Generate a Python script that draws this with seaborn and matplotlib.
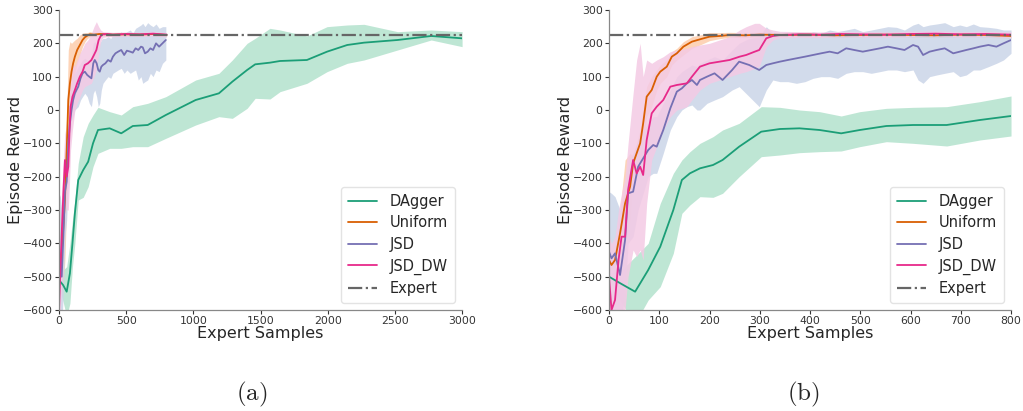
import matplotlib
matplotlib.use("Agg")
import matplotlib.pyplot as plt
import seaborn as sns
import numpy as np

# ---------------- data ----------------
expert_reward = 225
series_names = ["DAgger", "Uniform", "JSD", "JSD_DW"]
line_colors = ["#1b9e77", "#d95f02", "#7570b3", "#e7298a"]
fill_colors = ["#b3e2cd", "#fdcdac", "#cbd5e8", "#f4cae4"]

# panel (a)
a_dagger_x = [0, 30, 57, 81, 100, 118, 143, 180, 217, 253, 290, 377, 463, 549, 660, 795, 1017, 1190, 1290, 1400, 1460, 1570, 1645, 1845, 1995, 2145, 2270, 2520, 2770, 3000]
a_dagger_mean = [-510, -525, -545, -490, -400, -310, -210, -180, -155, -100, -60, -55, -70, -48, -45, -15, 30, 50, 85, 120, 137, 142, 147, 150, 175, 195, 202, 210, 222, 215]
a_dagger_hi = [-490, -480, -470, -400, -330, -270, -160, -80, -40, -15, 8, -5, -15, 10, 20, 40, 90, 110, 150, 200, 215, 245, 240, 222, 250, 255, 257, 235, 240, 235]
a_dagger_lo = [-530, -575, -620, -580, -470, -400, -270, -262, -230, -170, -130, -115, -115, -110, -110, -85, -45, -20, -25, 5, 35, 33, 55, 80, 115, 140, 150, 180, 210, 190]

a_uniform_x = [0, 10, 25, 44, 57, 69, 81, 93, 105, 118, 135, 155, 175, 192, 210, 229, 260, 300, 400, 500, 600, 700, 800]
a_uniform_mean = [-450, -470, -400, -270, -120, 30, 80, 115, 140, 160, 180, 195, 210, 218, 223, 227, 226, 228, 226, 227, 226, 228, 225]
a_uniform_hi = [-430, -400, -250, -130, -20, 180, 205, 200, 205, 210, 215, 225, 230, 232, 232, 235, 232, 233, 231, 232, 231, 233, 230]
a_uniform_lo = [-470, -520, -560, -450, -280, -150, -60, 20, 70, 110, 140, 165, 190, 204, 214, 220, 220, 222, 221, 222, 221, 223, 220]

a_jsd_x = [0, 10, 20, 32, 44, 57, 69, 81, 93, 105, 118, 130, 143, 160, 175, 192, 210, 225, 241, 255, 266, 280, 292, 303, 315, 327, 345, 365, 385, 401, 420, 440, 463, 485, 505, 530, 549, 570, 590, 610, 623, 640, 660, 680, 700, 722, 745, 770, 795]
a_jsd_mean = [-430, -445, -500, -380, -245, -215, -100, -40, 0, 30, 50, 60, 70, 95, 110, 115, 105, 100, 95, 140, 150, 140, 120, 115, 130, 135, 140, 150, 145, 160, 170, 175, 180, 165, 178, 175, 172, 185, 180, 190, 188, 170, 175, 185, 180, 200, 190, 200, 210]
a_jsd_hi = [-250, -260, -300, -250, -150, -120, -20, 40, 80, 100, 110, 120, 130, 140, 150, 155, 150, 150, 160, 200, 205, 200, 190, 200, 210, 215, 215, 220, 215, 225, 230, 225, 235, 225, 235, 240, 230, 245, 250, 255, 260, 250, 262, 255, 250, 258, 245, 250, 250]
a_jsd_lo = [-600, -620, -650, -550, -380, -330, -200, -100, -30, -20, 0, 5, 10, 30, 40, 50, 40, 20, 10, 50, 60, 40, 10, 20, 60, 80, 90, 100, 95, 110, 115, 120, 125, 110, 120, 110, 115, 120, 90, 100, 80, 85, 90, 110, 100, 120, 115, 140, 150]

a_jsddw_x = [0, 10, 20, 32, 44, 57, 69, 78, 86, 100, 118, 135, 155, 175, 192, 215, 241, 260, 278, 295, 310, 327, 360, 400, 500, 600, 700, 800]
a_jsddw_mean = [-600, -480, -370, -250, -150, -200, -170, -60, 10, 40, 60, 80, 100, 115, 135, 140, 150, 165, 180, 210, 222, 227, 228, 226, 228, 227, 229, 226]
a_jsddw_hi = [-560, -400, -250, -150, -60, -100, -50, 60, 120, 140, 130, 150, 170, 185, 200, 210, 230, 250, 265, 250, 240, 235, 234, 233, 234, 233, 235, 232]
a_jsddw_lo = [-640, -600, -520, -400, -280, -300, -300, -220, -120, -60, 0, 20, 40, 60, 70, 75, 80, 100, 120, 170, 205, 218, 220, 219, 221, 220, 222, 219]

# panel (b)
b_dagger_x = [0, 25, 52, 78, 102, 128, 145, 161, 181, 207, 226, 259, 303, 340, 379, 419, 462, 499, 552, 605, 672, 738, 800]
b_dagger_mean = [-500, -522, -545, -480, -410, -300, -210, -190, -175, -165, -150, -110, -65, -57, -55, -60, -70, -60, -48, -45, -45, -30, -18]
b_dagger_hi = [-490, -480, -440, -400, -280, -190, -150, -125, -100, -80, -60, -40, 10, 8, 0, -5, -18, -5, 5, 8, 10, 25, 42]
b_dagger_lo = [-510, -580, -640, -570, -530, -430, -310, -285, -260, -262, -250, -200, -140, -135, -128, -125, -123, -110, -95, -100, -108, -90, -78]

b_uniform_x = [0, 5, 12, 22, 32, 42, 48, 55, 62, 68, 75, 85, 95, 102, 115, 125, 135, 148, 165, 181, 200, 220, 240, 270, 300, 350, 400, 450, 500, 550, 600, 650, 700, 750, 800]
b_uniform_mean = [-450, -465, -450, -370, -280, -230, -160, -130, -100, -40, 40, 60, 100, 115, 130, 160, 170, 190, 205, 212, 220, 222, 225, 224, 226, 225, 226, 224, 225, 226, 225, 224, 226, 225, 222]
b_uniform_hi = [-440, -450, -430, -300, -150, -130, -140, -100, -60, 0, 70, 100, 120, 135, 150, 175, 185, 205, 220, 225, 232, 232, 233, 232, 233, 232, 233, 231, 232, 233, 232, 231, 233, 232, 229]
b_uniform_lo = [-460, -480, -470, -440, -400, -330, -200, -170, -150, -100, -20, 10, 60, 80, 100, 135, 150, 165, 185, 195, 208, 214, 218, 217, 219, 218, 219, 217, 218, 219, 218, 217, 219, 218, 215]

b_jsd_x = [0, 5, 12, 22, 32, 38, 48, 58, 68, 78, 88, 95, 108, 122, 135, 145, 155, 165, 175, 181, 195, 210, 226, 245, 259, 279, 299, 313, 326, 340, 356, 373, 390, 406, 422, 439, 455, 472, 488, 505, 522, 539, 555, 572, 588, 605, 615, 625, 638, 652, 668, 685, 698, 711, 725, 738, 755, 771, 785, 800]
b_jsd_mean = [-425, -445, -430, -495, -390, -250, -245, -170, -145, -120, -105, -110, -60, 5, 55, 65, 80, 90, 75, 90, 100, 110, 90, 120, 145, 135, 120, 135, 140, 145, 150, 155, 160, 165, 170, 175, 170, 185, 180, 175, 180, 185, 190, 185, 180, 195, 190, 165, 175, 180, 185, 170, 175, 180, 185, 190, 195, 190, 200, 210]
b_jsd_hi = [-245, -250, -260, -300, -250, -150, -130, -90, -60, -40, -20, -20, 20, 60, 100, 115, 125, 135, 130, 140, 150, 160, 150, 180, 200, 215, 220, 250, 230, 220, 225, 230, 225, 235, 230, 240, 235, 240, 245, 235, 240, 245, 250, 248, 240, 255, 260, 250, 255, 258, 262, 250, 255, 250, 258, 250, 248, 245, 240, 240]
b_jsd_lo = [-600, -620, -620, -640, -560, -400, -380, -300, -250, -200, -190, -190, -130, -60, -20, 0, 10, 15, 0, 0, 20, 30, 40, 60, 70, 40, 10, 60, 90, 85, 85, 80, 85, 95, 100, 100, 95, 110, 115, 115, 110, 115, 120, 120, 115, 120, 90, 80, 100, 105, 110, 115, 100, 105, 120, 120, 130, 140, 150, 170]

b_jsddw_x = [0, 5, 12, 19, 25, 32, 38, 48, 55, 62, 68, 75, 85, 95, 108, 122, 135, 155, 165, 181, 200, 220, 240, 260, 273, 290, 299, 313, 326, 340, 380, 420, 460, 500, 550, 600, 650, 700, 750, 800]
b_jsddw_mean = [-500, -600, -570, -450, -380, -380, -240, -150, -190, -170, -195, -90, -10, 10, 30, 70, 75, 80, 100, 130, 140, 145, 150, 160, 165, 175, 180, 215, 222, 225, 227, 226, 228, 227, 226, 228, 229, 227, 228, 226]
b_jsddw_hi = [-380, -400, -380, -300, -250, -200, -100, 50, 150, 200, 100, 150, 140, 150, 160, 175, 180, 185, 190, 195, 200, 210, 220, 240, 250, 260, 260, 245, 240, 236, 235, 234, 236, 235, 234, 236, 237, 235, 236, 234]
b_jsddw_lo = [-600, -640, -640, -620, -600, -600, -500, -420, -440, -420, -450, -280, -150, -110, -60, -20, 0, 10, 30, 60, 80, 90, 100, 110, 115, 125, 130, 190, 210, 216, 218, 217, 220, 219, 218, 220, 221, 219, 220, 218]

x_ticks_a = [0, 500, 1000, 1500, 2000, 2500, 3000]
x_ticks_b = [0, 100, 200, 300, 400, 500, 600, 700, 800]
y_ticks = [-600, -500, -400, -300, -200, -100, 0, 100, 200, 300]
captions = ["(a)", "(b)"]

panels = [
    dict(xmax=3000, xticks=x_ticks_a, cap_x=0.2463, series=[
        (a_dagger_x, a_dagger_mean, a_dagger_lo, a_dagger_hi),
        (a_uniform_x, a_uniform_mean, a_uniform_lo, a_uniform_hi),
        (a_jsd_x, a_jsd_mean, a_jsd_lo, a_jsd_hi),
        (a_jsddw_x, a_jsddw_mean, a_jsddw_lo, a_jsddw_hi)]),
    dict(xmax=800, xticks=x_ticks_b, cap_x=0.785, series=[
        (b_dagger_x, b_dagger_mean, b_dagger_lo, b_dagger_hi),
        (b_uniform_x, b_uniform_mean, b_uniform_lo, b_uniform_hi),
        (b_jsd_x, b_jsd_mean, b_jsd_lo, b_jsd_hi),
        (b_jsddw_x, b_jsddw_mean, b_jsddw_lo, b_jsddw_hi)]),
]

# ---------------- plot ----------------
sns.set_style("ticks")
plt.rcParams["font.family"] = ["DejaVu Sans"]
plt.rcParams["mathtext.fontset"] = "cm"

fig = plt.figure(figsize=(10.23, 4.11), dpi=100)
axes = [fig.add_axes([0.0577, 0.2457, 0.394, 0.73]),
        fig.add_axes([0.5953, 0.2457, 0.393, 0.73])]

for ax, panel, cap in zip(axes, panels, captions):
    for (x, m, lo, hi), fc in zip(panel["series"], fill_colors):
        ax.fill_between(x, lo, hi, color=fc, alpha=0.85, linewidth=0)
    for (x, m, lo, hi), name, lc in zip(panel["series"], series_names, line_colors):
        sns.lineplot(x=x, y=m, ax=ax, color=lc, linewidth=1.3, label=name, estimator=None, sort=False)
    ax.axhline(expert_reward, color="#666666", linestyle="-.", linewidth=1.6, label="Expert")
    ax.set_xlim(0, panel["xmax"])
    ax.set_ylim(-600, 300)
    ax.set_xticks(panel["xticks"])
    ax.set_yticks(y_ticks)
    ax.tick_params(labelsize=7.8, colors="#333333", length=3, width=0.8, pad=1.5)
    for s in ("left", "bottom"):
        ax.spines[s].set_color("#888888")
        ax.spines[s].set_linewidth(0.9)
    sns.despine(ax=ax)
    ax.set_xlabel("Expert Samples", fontsize=11.5, labelpad=0)
    ax.set_ylabel("Episode Reward", fontsize=11.5, labelpad=0)
    leg = ax.legend(loc="lower right", fontsize=10.5, frameon=True, handlelength=2.0,
                    borderpad=0.45, labelspacing=0.45, handletextpad=0.9, borderaxespad=0.5)
    leg.get_frame().set_edgecolor("#dddddd")
    fig.text(panel["cap_x"], 0.041, r"$\mathrm{" + cap + "}$", ha="center",
             va="center", fontsize=18)

fig.savefig("out.png", dpi=100)
